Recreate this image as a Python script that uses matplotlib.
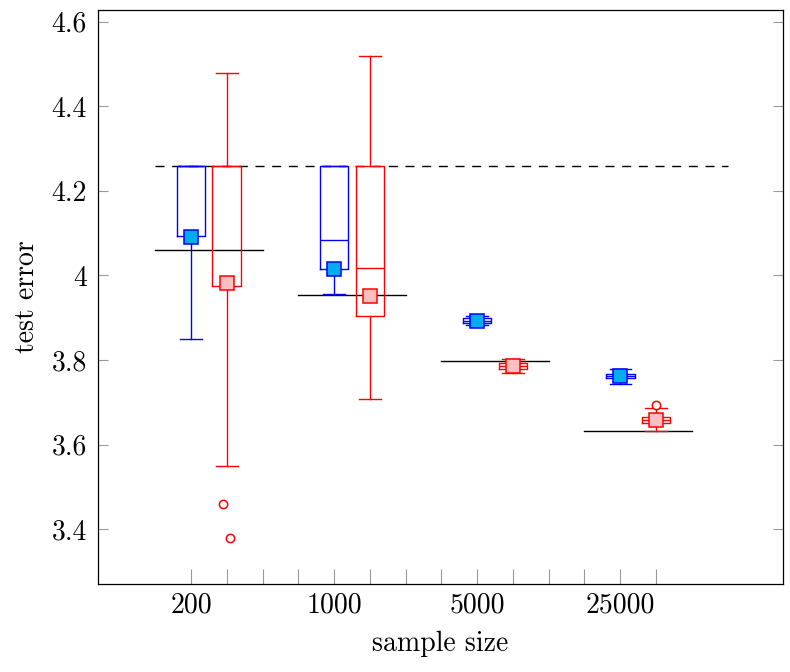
import matplotlib
matplotlib.use("Agg")
import matplotlib.pyplot as plt

plt.rcParams['font.family'] = ['cmr10', 'DejaVu Serif']
plt.rcParams['axes.formatter.use_mathtext'] = True

sample_sizes = ["200", "1000", "5000", "25000"]

# box statistics: lower whisker, q1, median, q3, upper whisker, mean
blue_low = [3.850, 3.956, 3.883, 3.743]
blue_q1 = [4.093, 4.015, 3.888, 3.757]
blue_med = [4.260, 4.085, 3.893, 3.762]
blue_q3 = [4.260, 4.260, 3.899, 3.766]
blue_high = [4.260, 4.260, 3.905, 3.779]
blue_mean = [4.090, 4.015, 3.893, 3.763]

red_low = [3.550, 3.707, 3.769, 3.633]
red_q1 = [3.976, 3.905, 3.779, 3.652]
red_med = [4.260, 4.017, 3.786, 3.658]
red_q3 = [4.260, 4.260, 3.792, 3.664]
red_high = [4.480, 4.520, 3.802, 3.686]
red_mean = [3.982, 3.951, 3.786, 3.658]

# outliers (group index, value, small horizontal jitter)
red_out_group = [0, 0, 3]
red_out_value = [3.460, 3.380, 3.693]
red_out_jitter = [-0.10, 0.09, 0.0]

ref_values = [4.060, 3.954, 3.798, 3.632]
dashed_value = 4.26

yticks = [3.4, 3.6, 3.8, 4.0, 4.2, 4.4, 4.6]
ytick_labels = ["3.4", "3.6", "3.8", "4", "4.2", "4.4", "4.6"]

fig = plt.figure(figsize=(7.9, 6.72), dpi=100)
ax = fig.add_axes([98/790, 88/672, 685/790, 574/672])

BLUE = (0, 0, 1)
RED = (1, 0, 0)
CYAN = (0/255, 174/255, 239/255)
PINK = (1, 191/255, 191/255)

def stats(low, q1, med, q3, high, mean):
    return [dict(whislo=a, q1=b, med=c, q3=d, whishi=e, mean=f, fliers=[])
            for a, b, c, d, e, f in zip(low, q1, med, q3, high, mean)]

n = len(sample_sizes)
blue_pos = [4 * i + 1 for i in range(n)]
red_pos = [4 * i + 2 for i in range(n)]

for st, pos, col, fill in [
    (stats(blue_low, blue_q1, blue_med, blue_q3, blue_high, blue_mean), blue_pos, BLUE, CYAN),
    (stats(red_low, red_q1, red_med, red_q3, red_high, red_mean), red_pos, RED, PINK),
]:
    ax.bxp(st, positions=pos, widths=0.8, capwidths=0.6, showmeans=True,
           showfliers=False, manage_ticks=False,
           boxprops=dict(color=col, lw=1.0),
           whiskerprops=dict(color=col, lw=1.0),
           capprops=dict(color=col, lw=1.0),
           medianprops=dict(color=col, lw=1.0),
           meanprops=dict(marker='s', markerfacecolor=fill, markeredgecolor=col,
                          markersize=10, markeredgewidth=1.1),
           zorder=3)

for g, v, j in zip(red_out_group, red_out_value, red_out_jitter):
    ax.plot(red_pos[g] + j, v, marker='o', ms=6, mfc='white', mec=RED, mew=1.1,
            ls='none', zorder=4)

for i, v in enumerate(ref_values):
    ax.plot([4 * i, 4 * i + 3], [v, v], color='black', lw=1.0, zorder=2)

ax.plot([0, 4 * n], [dashed_value, dashed_value], color='black', lw=1.0,
        dashes=(6.5, 5.5), zorder=2)

ax.set_xlim(-1.6, 17.55)
ax.set_ylim(3.27, 4.628)

ax.set_xticks(blue_pos)
ax.set_xticklabels(sample_sizes)
ax.set_xticks([k for k in range(1, 4 * n - 1) if k not in blue_pos], minor=True)
ax.set_yticks(yticks)
ax.set_yticklabels(ytick_labels)

ax.tick_params(axis='x', which='both', direction='in', length=11, width=0.8,
               color='#999999', labelsize=20, pad=6, top=False)
ax.tick_params(axis='y', which='both', direction='in', length=7, width=0.8,
               color='#999999', labelsize=20, pad=8, right=True)

for s in ax.spines.values():
    s.set_linewidth(0.9)
    s.set_color('black')

ax.set_xlabel("sample size", fontsize=20, labelpad=9)
ax.set_ylabel("test error", fontsize=20, labelpad=8)

fig.savefig("out.png", dpi=100)
